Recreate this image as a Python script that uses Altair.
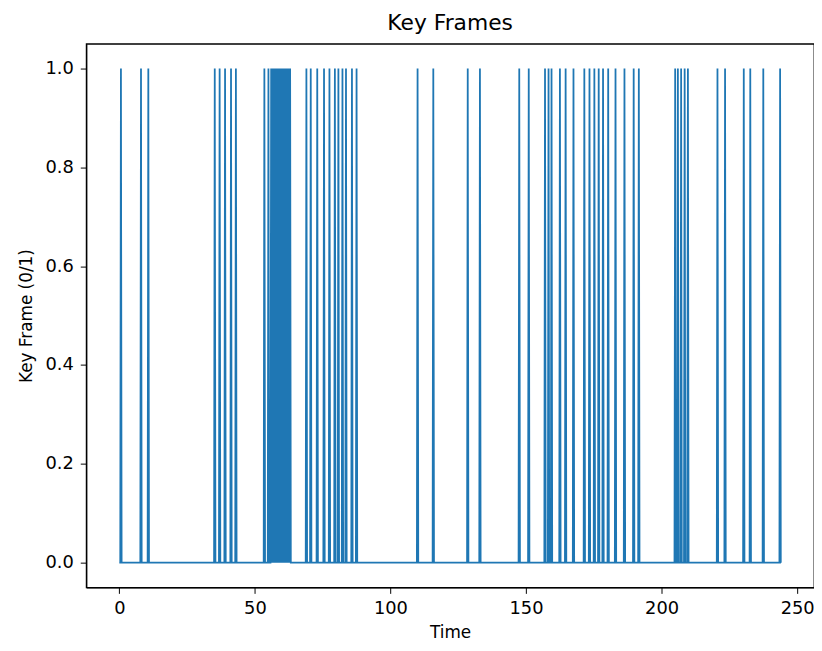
import altair as alt
import pandas as pd

# Key frame times (seconds)
key_times = [0.6, 8.0, 10.7, 35.2, 37.0, 39.0, 41.2, 43.0,
             53.5, 55.0, 56.0, 56.5, 57.0, 57.5, 58.0, 58.5, 59.0, 59.5,
             60.0, 60.5, 61.0, 61.5, 62.0, 62.5, 63.0,
             69.0, 70.6, 73.0, 75.5, 77.5, 79.5, 80.8, 82.3, 83.6, 85.8, 87.5,
             110.0, 115.8, 128.5, 133.0, 147.5, 151.0, 157.0, 158.3, 159.4,
             162.5, 164.6, 167.5, 171.5, 173.4, 175.2, 176.8, 178.4, 180.3,
             183.0, 186.3, 189.7, 191.6, 205.0, 206.0, 207.2, 208.5, 209.7,
             220.6, 223.4, 230.3, 232.7, 237.5, 243.7]
t_start = 0.0
t_end = 244.0
half_width = 0.25

# Build the 0/1 series from the key frame list
times = [t_start]
vals = [0]
for k in key_times:
    times += [k - half_width, k, k + half_width]
    vals += [0, 1, 0]
times.append(t_end)
vals.append(0)
df = pd.DataFrame({"Time": times, "Key": vals, "order": range(len(times))})

x_ticks = [0, 50, 100, 150, 200, 250]
y_ticks = [0.0, 0.2, 0.4, 0.6, 0.8, 1.0]

chart = alt.Chart(df).mark_line(color="#1f77b4", strokeWidth=1.8, clip=True).encode(
    x=alt.X("Time:Q", scale=alt.Scale(domain=[-12.2, 256.2], nice=False, zero=False),
            axis=alt.Axis(values=x_ticks, title="Time", format="d", grid=False,
                          labelPadding=6, titlePadding=8)),
    y=alt.Y("Key:Q", scale=alt.Scale(domain=[-0.05, 1.05], nice=False, zero=False),
            axis=alt.Axis(values=y_ticks, title="Key Frame (0/1)", format=".1f", grid=False)),
    order="order:Q",
).properties(
    width=735, height=549,
    title=alt.Title("Key Frames", fontSize=22, font="DejaVu Sans", fontWeight="normal",
                    color="#000000", offset=9),
    padding={"left": 79, "top": 33, "right": 0, "bottom": 56},
    autosize=alt.AutoSizeParams(type="none"),
).configure_view(
    stroke="#000000", strokeWidth=1.3
).configure_axis(
    labelFont="DejaVu Sans", titleFont="DejaVu Sans", labelFontSize=18, titleFontSize=17,
    titleFontWeight="normal", labelColor="#000000", titleColor="#000000",
    domainColor="#000000", tickColor="#000000", tickSize=6, labelPadding=7,
    domainWidth=1.3,
).configure_axisY(titlePadding=10)

chart.save("out.html", embed_options={"renderer": "svg", "actions": False})
